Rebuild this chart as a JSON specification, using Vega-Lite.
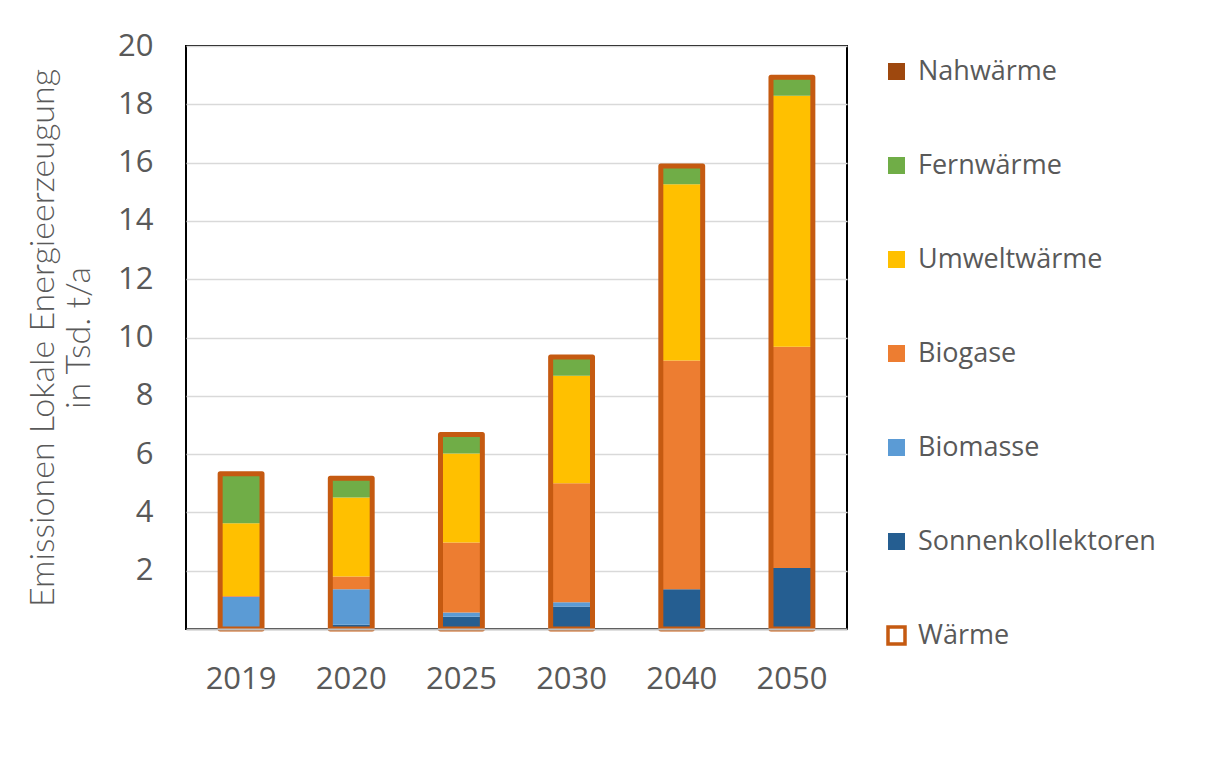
{
  "$schema": "https://vega.github.io/schema/vega-lite/v6.json",
  "width": 661,
  "height": 583,
  "padding": {"left": 26, "top": 30, "right": 5, "bottom": 5},
  "background": "#ffffff",
  "config": {
    "view": {"stroke": "#000000", "strokeWidth": 2},
    "font": "Open Sans",
    "legend": {
      "title": null,
      "orient": "right",
      "offset": 24,
      "padding": 12,
      "symbolType": "square",
      "symbolSize": 289,
      "symbolStrokeWidth": 3.5,
      "labelFontSize": 27,
      "labelColor": "#595959",
      "labelOffset": 8,
      "labelLimit": 0,
      "rowPadding": 63
    }
  },
  "data": {
    "values": [
      {"Jahr": "2019", "Kategorie": "Sonnenkollektoren", "Wert": 0.02},
      {"Jahr": "2019", "Kategorie": "Biomasse", "Wert": 1.09},
      {"Jahr": "2019", "Kategorie": "Biogase", "Wert": 0.02},
      {"Jahr": "2019", "Kategorie": "Umweltwärme", "Wert": 2.5},
      {"Jahr": "2019", "Kategorie": "Fernwärme", "Wert": 1.7},
      {"Jahr": "2019", "Kategorie": "Nahwärme", "Wert": 0},
      {"Jahr": "2019", "Kategorie": "Wärme", "Wert": 5.33},
      {"Jahr": "2020", "Kategorie": "Sonnenkollektoren", "Wert": 0.15},
      {"Jahr": "2020", "Kategorie": "Biomasse", "Wert": 1.21},
      {"Jahr": "2020", "Kategorie": "Biogase", "Wert": 0.44},
      {"Jahr": "2020", "Kategorie": "Umweltwärme", "Wert": 2.71},
      {"Jahr": "2020", "Kategorie": "Fernwärme", "Wert": 0.66},
      {"Jahr": "2020", "Kategorie": "Nahwärme", "Wert": 0},
      {"Jahr": "2020", "Kategorie": "Wärme", "Wert": 5.17},
      {"Jahr": "2025", "Kategorie": "Sonnenkollektoren", "Wert": 0.42},
      {"Jahr": "2025", "Kategorie": "Biomasse", "Wert": 0.15},
      {"Jahr": "2025", "Kategorie": "Biogase", "Wert": 2.4},
      {"Jahr": "2025", "Kategorie": "Umweltwärme", "Wert": 3.05},
      {"Jahr": "2025", "Kategorie": "Fernwärme", "Wert": 0.65},
      {"Jahr": "2025", "Kategorie": "Nahwärme", "Wert": 0},
      {"Jahr": "2025", "Kategorie": "Wärme", "Wert": 6.67},
      {"Jahr": "2030", "Kategorie": "Sonnenkollektoren", "Wert": 0.77},
      {"Jahr": "2030", "Kategorie": "Biomasse", "Wert": 0.15},
      {"Jahr": "2030", "Kategorie": "Biogase", "Wert": 4.08},
      {"Jahr": "2030", "Kategorie": "Umweltwärme", "Wert": 3.69},
      {"Jahr": "2030", "Kategorie": "Fernwärme", "Wert": 0.64},
      {"Jahr": "2030", "Kategorie": "Nahwärme", "Wert": 0},
      {"Jahr": "2030", "Kategorie": "Wärme", "Wert": 9.33},
      {"Jahr": "2040", "Kategorie": "Sonnenkollektoren", "Wert": 1.36},
      {"Jahr": "2040", "Kategorie": "Biomasse", "Wert": 0},
      {"Jahr": "2040", "Kategorie": "Biogase", "Wert": 7.85},
      {"Jahr": "2040", "Kategorie": "Umweltwärme", "Wert": 6.05},
      {"Jahr": "2040", "Kategorie": "Fernwärme", "Wert": 0.62},
      {"Jahr": "2040", "Kategorie": "Nahwärme", "Wert": 0},
      {"Jahr": "2040", "Kategorie": "Wärme", "Wert": 15.88},
      {"Jahr": "2050", "Kategorie": "Sonnenkollektoren", "Wert": 2.09},
      {"Jahr": "2050", "Kategorie": "Biomasse", "Wert": 0},
      {"Jahr": "2050", "Kategorie": "Biogase", "Wert": 7.59},
      {"Jahr": "2050", "Kategorie": "Umweltwärme", "Wert": 8.61},
      {"Jahr": "2050", "Kategorie": "Fernwärme", "Wert": 0.64},
      {"Jahr": "2050", "Kategorie": "Nahwärme", "Wert": 0},
      {"Jahr": "2050", "Kategorie": "Wärme", "Wert": 18.93}
    ]
  },
  "encoding": {
    "x": {
      "field": "Jahr",
      "type": "nominal",
      "scale": {"paddingInner": 0.62, "paddingOuter": 0.31},
      "axis": {
        "title": null,
        "labelAngle": 0,
        "labelFontSize": 31,
        "labelColor": "#595959",
        "labelPadding": 35,
        "ticks": false,
        "domainColor": "#BFBFBF",
        "domainWidth": 2,
        "zindex": 1
      }
    }
  },
  "layer": [
    {
      "transform": [
        {"filter": "datum.Kategorie !== 'Wärme'"},
        {"calculate": "indexof(['Sonnenkollektoren','Biomasse','Biogase','Umweltwärme','Fernwärme','Nahwärme'], datum.Kategorie)", "as": "ord"}
      ],
      "mark": {"type": "bar"},
      "encoding": {
        "y": {
          "field": "Wert",
          "type": "quantitative",
          "stack": "zero",
          "scale": {"domain": [0, 20], "nice": false},
          "axis": {
            "values": [2, 4, 6, 8, 10, 12, 14, 16, 18, 20],
            "title": ["Emissionen Lokale Energieerzeugung", "in Tsd. t/a"],
            "titleFont": "Lato",
            "titleFontSize": 34,
            "titleFontWeight": 300,
            "titleColor": "#595959",
            "titleLineHeight": 36,
            "titlePadding": 21,
            "labelFontSize": 31,
            "labelColor": "#595959",
            "labelPadding": 33,
            "ticks": false,
            "domain": false,
            "gridColor": "#D9D9D9",
            "gridWidth": 1.5
          }
        },
        "order": {"field": "ord", "type": "quantitative"},
        "fill": {
          "field": "Kategorie",
          "type": "nominal",
          "scale": {
            "domain": ["Nahwärme", "Fernwärme", "Umweltwärme", "Biogase", "Biomasse", "Sonnenkollektoren", "Wärme"],
            "range": ["#9E480E", "#70AD47", "#FFC000", "#ED7D31", "#5B9BD5", "#255E91", "#ffffff"]
          },
          "legend": {"title": null}
        }
      }
    },
    {
      "transform": [{"filter": "datum.Kategorie === 'Wärme'"}],
      "mark": {"type": "bar", "fill": "transparent", "strokeWidth": 5, "strokeJoin": "round"},
      "encoding": {
        "y": {"field": "Wert", "type": "quantitative", "stack": null},
        "stroke": {
          "field": "Kategorie",
          "type": "nominal",
          "scale": {
            "domain": ["Nahwärme", "Fernwärme", "Umweltwärme", "Biogase", "Biomasse", "Sonnenkollektoren", "Wärme"],
            "range": ["transparent", "transparent", "transparent", "transparent", "transparent", "transparent", "#C55A11"]
          },
          "legend": {"title": null}
        }
      }
    }
  ]
}
